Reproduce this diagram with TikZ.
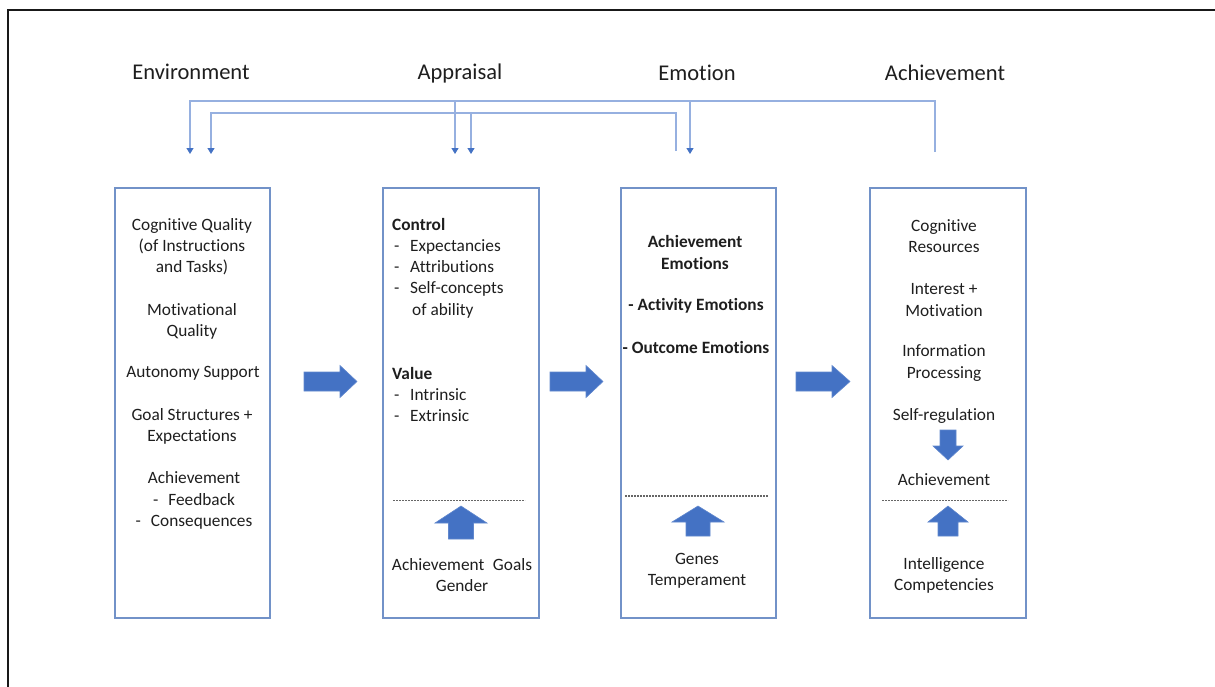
\documentclass[tikz,border=0pt]{standalone}
\usepackage{fontspec}
\setmainfont{Carlito}[Ligatures=NoCommon]
\usetikzlibrary{arrows.meta}
\definecolor{boxblue}{RGB}{114,146,200}
\definecolor{linkblue}{RGB}{150,176,224}
\definecolor{tipblue}{RGB}{68,114,196}
\definecolor{fillblue}{RGB}{68,114,196}
\definecolor{txt}{RGB}{30,30,30}
\begin{document}
\begin{tikzpicture}[x=1pt,y=-1pt,
  panel/.style={draw=boxblue,line width=1.6pt,inner sep=0pt,minimum height=430pt},
  head/.style={font=\fontsize{22.5}{27}\selectfont,text=txt,inner sep=0pt},
  body/.style={font=\fontsize{17.3}{21.2}\selectfont,text=txt,inner sep=0pt,align=center,yshift=-1.5pt},
  bodybold/.style={body,font=\fontsize{17.3}{21.2}\selectfont\bfseries},
  link/.style={draw=linkblue,line width=1.2pt},
  tipx/.tip={Triangle[width=7pt,length=6pt,color=tipblue,fill=tipblue]},
  sepline/.style={draw=black!60,line width=1.3pt,dash pattern=on 2pt off 1pt},
  blockarrow/.style={fill=fillblue,draw=fillblue!85!white,line width=0.6pt}]
\useasboundingbox (0,0) rectangle (1215,686);
\clip (0,0) rectangle (1215,686);
% outer frame
\draw[line width=2pt,black!90] (8,700) -- (8,10) -- (1230,10);

% headers
\node[head] (hEnv) at (191,72) {Environment};
\node[head] (hApp) at (460,73) {Appraisal};
\node[head] (hEmo) at (697,73) {Emotion};
\node[head] (hAch) at (945,73) {Achievement};

% panels
\node[panel,minimum width=155pt] (env) at (192.5,403) {};
\node[panel,minimum width=156pt] (app) at (461,403) {};
\node[panel,minimum width=155pt] (emo) at (698.5,403) {};
\node[panel,minimum width=156pt] (ach) at (948,403) {};

% feedback connectors
\coordinate (busA) at (0,101);
\coordinate (busB) at (0,113);
\coordinate (srcAch) at (935,152);
\coordinate (srcEmo) at (676,151);
\coordinate (tEnvA) at (190,154);
\coordinate (tEnvB) at (211,154);
\coordinate (tAppA) at (455,154);
\coordinate (tAppB) at (471,154);
\coordinate (tEmoA) at (690,154);
\draw[link,-tipx] (srcAch) |- (tEnvA |- busA) -- (tEnvA);
\draw[link,-tipx] (tAppA |- busA) -- (tAppA);
\draw[link,-tipx] (tEmoA |- busA) -- (tEmoA);
\draw[link,-tipx] (srcEmo) |- (tEnvB |- busB) -- (tEnvB);
\draw[link,-tipx] (tAppB |- busB) -- (tAppB);

% block arrows between panels
\path[blockarrow,shift={(304,381.5)}] (0,-9.5) -- (36,-9.5) -- (36,-16) -- (53,0) -- (36,16) -- (36,9.5) -- (0,9.5) -- cycle;
\path[blockarrow,shift={(550,381.5)}] (0,-9.5) -- (36,-9.5) -- (36,-16) -- (53,0) -- (36,16) -- (36,9.5) -- (0,9.5) -- cycle;
\path[blockarrow,shift={(796,381.5)}] (0,-9.5) -- (36,-9.5) -- (36,-16) -- (54,0) -- (36,16) -- (36,9.5) -- (0,9.5) -- cycle;

% Environment panel text
\node[body] (e1) at (192,245) {Cognitive Quality\\(of Instructions\\and Tasks)};
\node[body] (e2) at (192,319.5) {Motivational\\Quality};
\node[body] (e3) at (193,372) {Autonomy Support};
\node[body] (e4) at (192,425) {Goal Structures +\\Expectations};
\node[body] (e5) at (194,499) {Achievement\\-\hspace{10pt}Feedback\\-\hspace{10pt}Consequences};

% Appraisal panel text
\node[body,anchor=west,align=left] (a1) at (392,266.5) {\textbf{Control}\\\makebox[18pt][l]{\hspace{2pt}-}Expectancies\\\makebox[18pt][l]{\hspace{2pt}-}Attributions\\\makebox[18pt][l]{\hspace{2pt}-}Self-concepts\\\hspace*{20pt}of ability};
\node[body,anchor=west,align=left] (a2) at (392,393) {\textbf{Value}\\\makebox[18pt][l]{\hspace{2pt}-}Intrinsic\\\makebox[18pt][l]{\hspace{2pt}-}Extrinsic};
\draw[sepline] (393,500.7) -- (525,500.7);
\path[blockarrow,shift={(461,506)}] (0,0) -- (26,17) -- (12.5,17) -- (12.5,33) -- (-12.5,33) -- (-12.5,17) -- (-26,17) -- cycle;
\node[body] (a3) at (462,573.5) {Achievement\enspace Goals\\Gender};

% Emotion panel text
\node[bodybold] (m1) at (695,251) {Achievement\\Emotions};
\node[bodybold] (m2) at (696,304) {- Activity Emotions};
\node[bodybold] (m3) at (696,346) {- Outcome Emotions};
\draw[sepline] (625,496) -- (768,496);
\path[blockarrow,shift={(698,506)}] (0,0) -- (26,16) -- (12,16) -- (12,30) -- (-12,30) -- (-12,16) -- (-26,16) -- cycle;
\node[body] (m4) at (697,569) {Genes\\Temperament};

% Achievement panel text
\node[body] (c1) at (944,234.5) {Cognitive\\Resources};
\node[body] (c2) at (944,298.5) {Interest +\\Motivation};
\node[body] (c3) at (944,361.5) {Information\\Processing};
\node[body] (c4) at (944,414) {Self-regulation};
\path[blockarrow,shift={(948,460)}] (0,0) -- (15,-14) -- (8,-14) -- (8,-30) -- (-8,-30) -- (-8,-14) -- (-15,-14) -- cycle;
\node[body] (c5) at (944,478) {Achievement};
\draw[sepline] (882,500.7) -- (1008,500.7);
\path[blockarrow,shift={(948,506)}] (0,0) -- (20,16) -- (10,16) -- (10,30) -- (-10,30) -- (-10,16) -- (-20,16) -- cycle;
\node[body] (c6) at (944,573.5) {Intelligence\\Competencies};
\end{tikzpicture}
\end{document}
